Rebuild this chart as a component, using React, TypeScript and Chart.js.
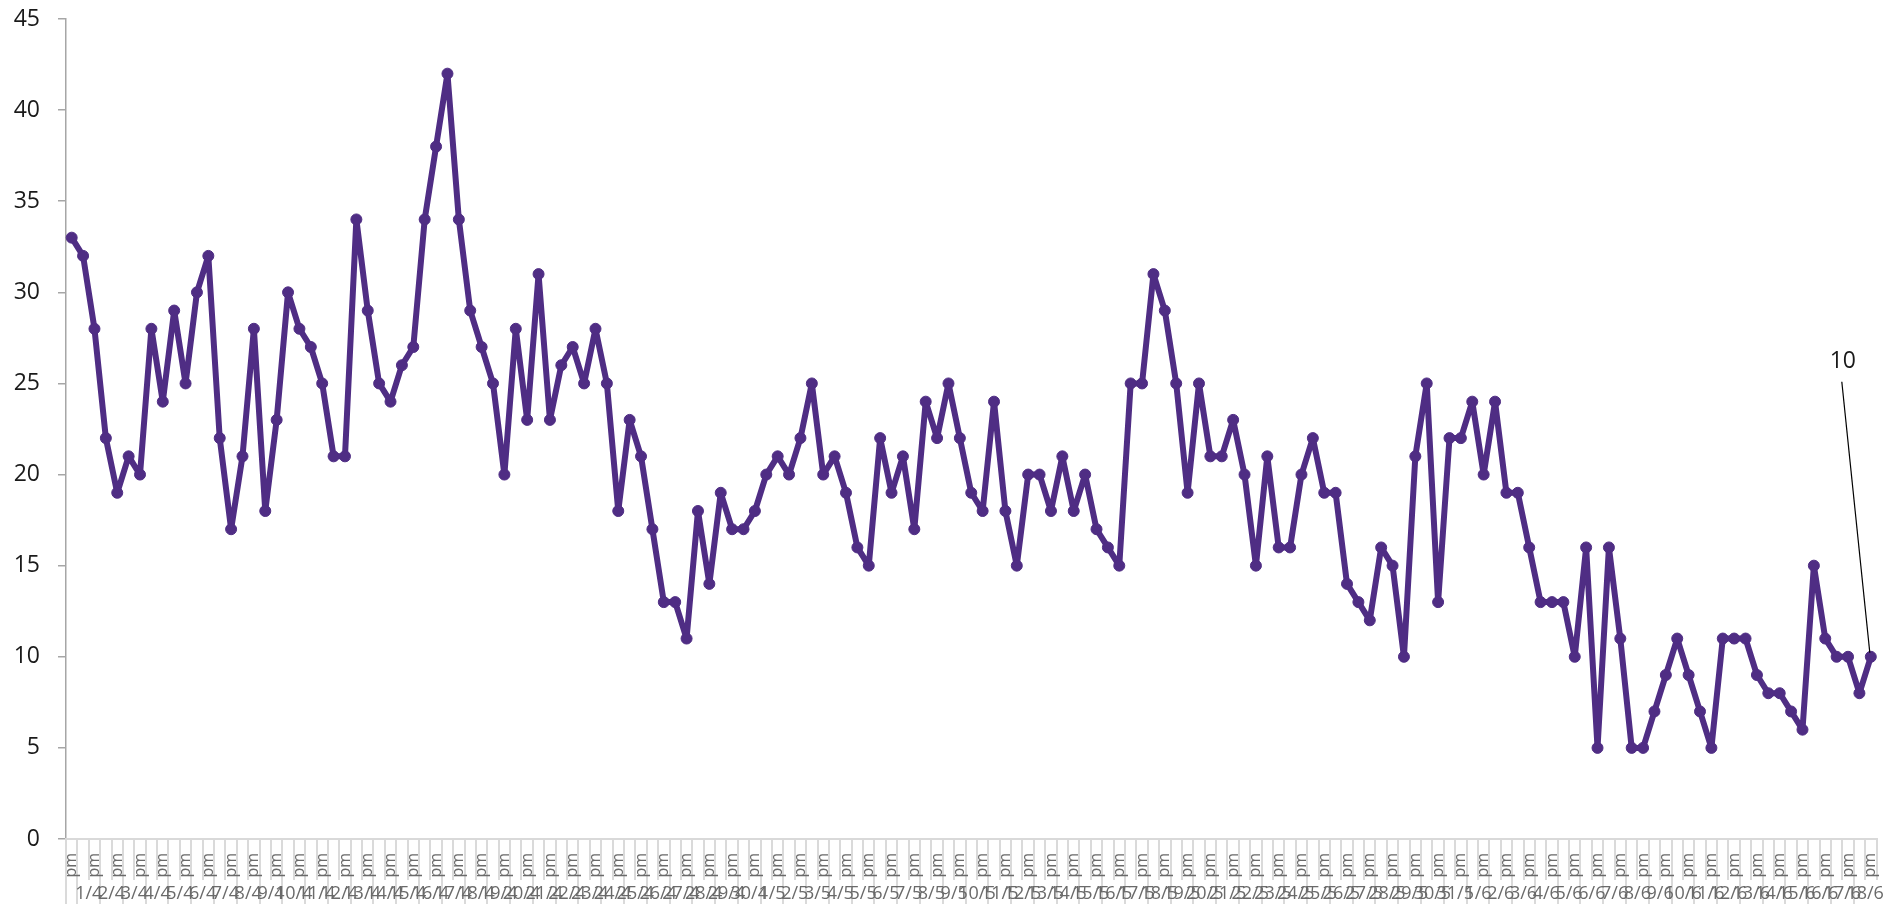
import React, { useEffect, useRef } from "react";
import { Chart, registerables } from "chart.js";

Chart.register(...registerables);

// Lone first category, then one date per two categories
const dateLabels = [
  "",
  "1/4", "2/4", "3/4", "4/4", "5/4", "6/4", "7/4", "8/4", "9/4", "10/4",
  "11/4", "12/4", "13/4", "14/4", "15/4", "16/4", "17/4", "18/4", "19/4", "20/4",
  "21/4", "22/4", "23/4", "24/4", "25/4", "26/4", "27/4", "28/4", "29/4", "30/4",
  "1/5", "2/5", "3/5", "4/5", "5/5", "6/5", "7/5", "8/5", "9/5", "10/5",
  "11/5", "12/5", "13/5", "14/5", "15/5", "16/5", "17/5", "18/5", "19/5", "20/5",
  "21/5", "22/5", "23/5", "24/5", "25/5", "26/5", "27/5", "28/5", "29/5", "30/5", "31/5",
  "1/6", "2/6", "3/6", "4/6", "5/6", "6/6", "7/6", "8/6", "9/6", "10/6",
  "11/6", "12/6", "13/6", "14/6", "15/6", "16/6", "17/6", "18/6",
];

const periodPattern = ["pm", ""];

const values = [
  33, 32, 28, 22, 19, 21, 20, 28, 24, 29,
  25, 30, 32, 22, 17, 21, 28, 18, 23, 30,
  28, 27, 25, 21, 21, 34, 29, 25, 24, 26,
  27, 34, 38, 42, 34, 29, 27, 25, 20, 28,
  23, 31, 23, 26, 27, 25, 28, 25, 18, 23,
  21, 17, 13, 13, 11, 18, 14, 19, 17, 17,
  18, 20, 21, 20, 22, 25, 20, 21, 19, 16,
  15, 22, 19, 21, 17, 24, 22, 25, 22, 19,
  18, 24, 18, 15, 20, 20, 18, 21, 18, 20,
  17, 16, 15, 25, 25, 31, 29, 25, 19, 25,
  21, 21, 23, 20, 15, 21, 16, 16, 20, 22,
  19, 19, 14, 13, 12, 16, 15, 10, 21, 25,
  13, 22, 22, 24, 20, 24, 19, 19, 16, 13,
  13, 13, 10, 16, 5, 16, 11, 5, 5, 7,
  9, 11, 9, 7, 5, 11, 11, 11, 9, 8,
  8, 7, 6, 15, 11, 10, 10, 8, 10,
];

const yTicks = [0, 5, 10, 15, 20, 25, 30, 35, 40, 45];

const LINE_COLOR = "#4f2d84";
const FONT = "'Open Sans', 'Noto Sans', sans-serif";

export default function App() {
  const canvasRef = useRef<HTMLCanvasElement | null>(null);

  useEffect(() => {
    if (!canvasRef.current) return;
    const n = values.length;
    const innerLabels = values.map((_, i) => periodPattern[i % 2]);
    const outerLabels = values.map((_, i) => (i % 2 === 1 ? dateLabels[(i + 1) / 2] : ""));

    const lastLabelPlugin = {
      id: "lastLabel",
      afterDatasetsDraw(chart: any) {
        const meta = chart.getDatasetMeta(0);
        const pt = meta.data[meta.data.length - 1];
        if (!pt) return;
        const ctx = chart.ctx;
        ctx.save();
        ctx.strokeStyle = "#000000";
        ctx.lineWidth = 1.2;
        ctx.beginPath();
        ctx.moveTo(pt.x - 29, pt.y - 275);
        ctx.lineTo(pt.x - 1, pt.y - 4);
        ctx.stroke();
        ctx.fillStyle = "#1a1a1a";
        ctx.font = `23px ${FONT}`;
        ctx.textAlign = "center";
        ctx.textBaseline = "middle";
        ctx.fillText(String(values[values.length - 1]), pt.x - 28, pt.y - 295);
        ctx.restore();
      },
    };

    const chart = new Chart(canvasRef.current, {
      type: "line",
      data: {
        labels: innerLabels,
        datasets: [
          {
            data: values,
            xAxisID: "x",
            yAxisID: "y",
            borderColor: LINE_COLOR,
            backgroundColor: LINE_COLOR,
            borderWidth: 6,
            pointRadius: 5.5,
            pointBorderWidth: 1,
            pointBackgroundColor: LINE_COLOR,
            pointBorderColor: LINE_COLOR,
            tension: 0,
            borderJoinStyle: "round",
            clip: false as any,
          },
        ],
      },
      options: {
        animation: false,
        responsive: true,
        maintainAspectRatio: false,
        layout: { padding: { top: 19, right: 6, left: 0, bottom: 0 } },
        plugins: {
          legend: { display: false },
          tooltip: { enabled: false },
        },
        scales: {
          y: {
            min: 0,
            max: 45,
            afterFit(scale: any) {
              scale.width = 66;
              scale.paddingTop = 0;
              scale.paddingBottom = 0;
            },
            afterBuildTicks(scale: any) {
              scale.ticks = yTicks.map((v) => ({ value: v }));
            },
            border: { color: "#a6a6a6", width: 1.5 },
            grid: {
              drawOnChartArea: false,
              drawTicks: true,
              tickLength: 8,
              color: "#a6a6a6",
              lineWidth: 1.5,
            },
            ticks: {
              padding: 18,
              color: "#1a1a1a",
              font: { family: FONT, size: 23 },
            },
          },
          x: {
            type: "category",
            labels: innerLabels,
            offset: true,
            position: "bottom",
            weight: 0,
            afterFit(scale: any) {
              scale.height = 41;
            },
            border: { color: "#d9d9d9", width: 2 },
            grid: {
              offset: true,
              drawOnChartArea: false,
              drawTicks: true,
              tickLength: 41,
              color: "#dadada",
              lineWidth: 2,
            },
            ticks: {
              autoSkip: false,
              maxRotation: 90,
              minRotation: 90,
              padding: -27,
              color: "#6a6a6a",
              font: { family: FONT, size: 16 },
            },
          },
          x2: {
            type: "category",
            labels: outerLabels,
            offset: true,
            position: "bottom",
            weight: 1,
            afterFit(scale: any) {
              scale.height = 24;
            },
            border: { display: false },
            grid: {
              offset: true,
              drawOnChartArea: false,
              drawTicks: true,
              tickLength: 24,
              color: (ctx: any) =>
                ctx.index === 0 || ctx.index % 2 === 1 || ctx.index === n ? "#dadada" : "rgba(0,0,0,0)",
              lineWidth: 2,
            },
            ticks: {
              autoSkip: false,
              maxRotation: 0,
              minRotation: 0,
              padding: -21,
              labelOffset: 5.7,
              color: "#6a6a6a",
              font: { family: FONT, size: 18 },
            },
          },
        },
      } as any,
      plugins: [lastLabelPlugin],
    });

    return () => {
      chart.destroy();
    };
  }, []);

  return (
    <div style={{ position: "fixed", left: 0, top: 0, width: "1883px", height: "904px", background: "#ffffff" }}>
      <canvas ref={canvasRef} />
    </div>
  );
}
